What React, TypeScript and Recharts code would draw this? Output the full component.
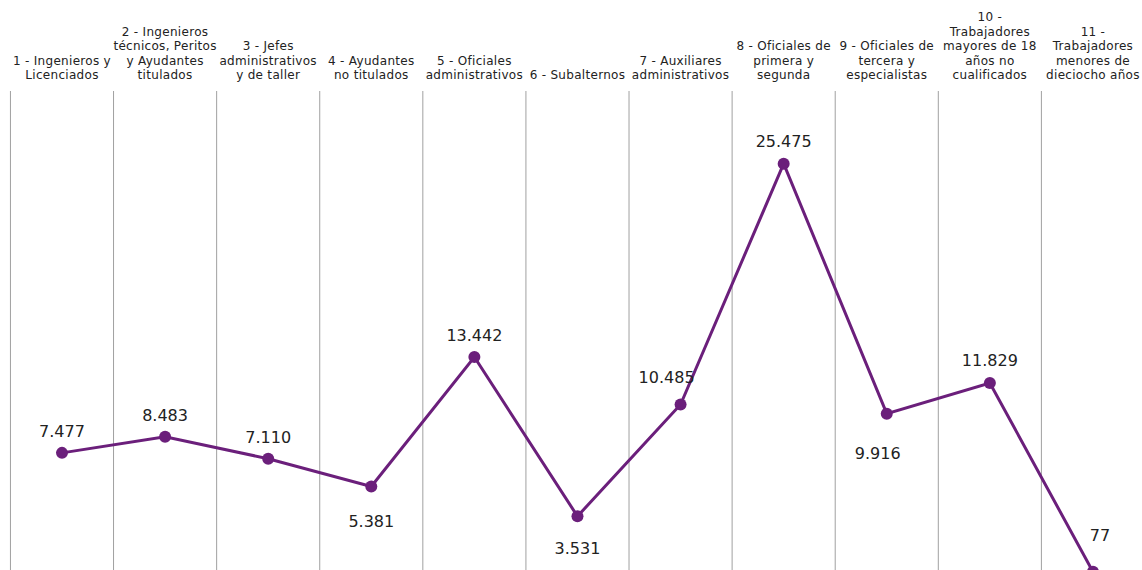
import React from 'react';
import { LineChart, Line, XAxis, YAxis, ReferenceLine, LabelList } from 'recharts';

const categories: string[][] = [
  ['1 - Ingenieros y', 'Licenciados'],
  ['2 - Ingenieros', 'técnicos, Peritos', 'y Ayudantes', 'titulados'],
  ['3 - Jefes', 'administrativos', 'y de taller'],
  ['4 - Ayudantes', 'no titulados'],
  ['5 - Oficiales', 'administrativos'],
  ['6 - Subalternos'],
  ['7 - Auxiliares', 'administrativos'],
  ['8 - Oficiales de', 'primera y', 'segunda'],
  ['9 - Oficiales de', 'tercera y', 'especialistas'],
  ['10 -', 'Trabajadores', 'mayores de 18', 'años no', 'cualificados'],
  ['11 -', 'Trabajadores', 'menores de', 'dieciocho años'],
];

const values: number[] = [7477, 8483, 7110, 5381, 13442, 3531, 10485, 25475, 9916, 11829, 77];

// label placement per point: [dx, dy] relative to the dot
const labelOffsets: [number, number][] = [
  [0, -22], [0, -22], [0, -22], [0, 34], [0, -22], [0, 32],
  [-14, -28], [0, -23], [-9, 39], [0, -23], [7, -37],
];

const COLOR = '#6b1f7b';

const fmt = (v: number) => String(v).replace(/\B(?=(\d{3})+(?!\d))/g, '.');

const data = values.map((v, i) => ({ x: i + 0.5, value: v }));
const tickPositions = categories.map((_, i) => i + 0.5);
const boundaries = categories.map((_, i) => i);

const CategoryTick = (props: any) => {
  const { x, payload } = props;
  const lines = categories[Math.floor(payload.value)] || [];
  const lastBaseline = 79;
  const lh = 14.4;
  return (
    <text textAnchor="middle" fontSize={12} letterSpacing={0.3} fill="#222" fontFamily="Verdana, DejaVu Sans, sans-serif">
      {lines.map((l, i) => (
        <tspan key={i} x={x} y={lastBaseline - (lines.length - 1 - i) * lh}>{l}</tspan>
      ))}
    </text>
  );
};

const ValueLabel = (props: any) => {
  const { x, y, index } = props;
  const [dx, dy] = labelOffsets[index];
  return (
    <text x={x + dx} y={y + dy} dy={6} textAnchor="middle" fontSize={16} fill="#222"
      fontFamily="Verdana, DejaVu Sans, sans-serif">
      {fmt(values[index])}
    </text>
  );
};

export default function App() {
  return (
    <div style={{ position: 'absolute', left: 0, top: 0, width: 1142, height: 570, overflow: 'hidden', background: '#fff' }}>
      <LineChart width={1150} height={580} data={data} margin={{ top: 31, right: 5.5, left: 10.45, bottom: 7 }}>
        <XAxis
          dataKey="x"
          type="number"
          domain={[0, 11]}
          orientation="top"
          height={60}
          ticks={tickPositions}
          interval={0}
          axisLine={false}
          tickLine={false}
          tick={<CategoryTick />}
        />
        <YAxis hide domain={[0, 30000]} />
        {boundaries.map((b) => (
          <ReferenceLine key={b} x={b} stroke="#a0a0a0" strokeWidth={1} />
        ))}
        <Line
          type="linear"
          dataKey="value"
          stroke={COLOR}
          strokeWidth={3}
          dot={{ r: 6, fill: COLOR, stroke: COLOR, strokeWidth: 0 }}
          activeDot={false}
          isAnimationActive={false}
        >
          <LabelList dataKey="value" content={<ValueLabel />} />
        </Line>
      </LineChart>
    </div>
  );
}
